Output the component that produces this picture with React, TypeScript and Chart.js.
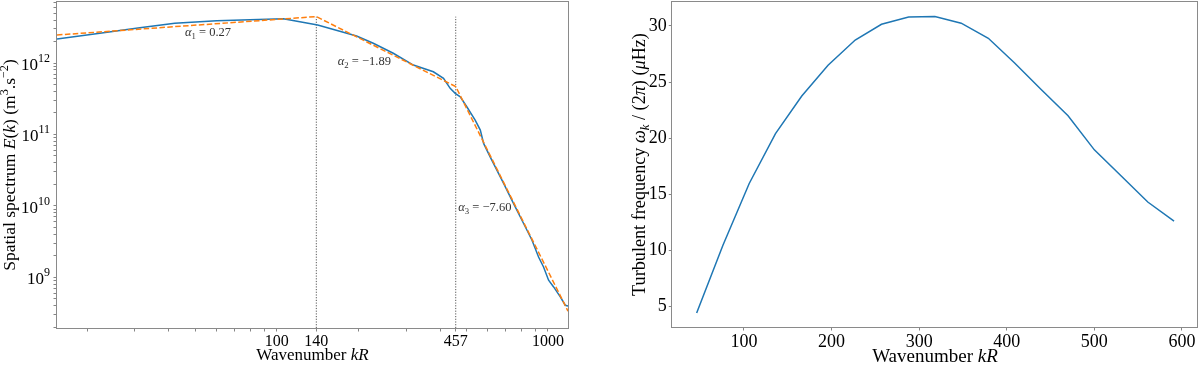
import React, { useEffect, useRef } from "react";
import { Chart, registerables } from "chart.js";

Chart.register(...registerables);

const SERIF = "'Liberation Serif', 'DejaVu Serif', serif";

// ---------- Left panel: spatial spectrum ----------
const specK = [
  15.5, 22.3, 31.3, 42.1, 60.1, 105.8, 141.6, 197, 227, 269, 319, 378, 412, 436, 455, 475, 502,
  539, 563, 579, 612, 648, 686, 746, 813, 873, 923, 963, 1005, 1049, 1110, 1158, 1185,
];
const specE = [
  2.17e12, 2.61e12, 3.13e12, 3.61e12, 3.92e12, 4.18e12, 3.41e12, 2.39e12, 1.89e12, 1.37e12,
  9.38e11, 7.55e11, 6.1e11, 4.42e11, 3.76e11, 3.37e11, 2.44e11, 1.59e11, 1.15e11, 7.48e10,
  4.85e10, 3.16e10, 2.06e10, 1.08e10, 5.66e9, 3.3e9, 1.92e9, 1.39e9, 9.08e8, 7.31e8, 5.3e8,
  4.05e8, 3.95e8,
];
const fitK = [15.5, 140, 457, 1185];
const fitE = [2.47e12, 4.47e12, 4.68e11, 3.35e8];
const breakK = [140, 457];
const breakTopE = 4.46e12;
const slopeLabels = ["1", "2", "3"];
const slopeValues = ["0.27", "\u22121.89", "\u22127.60"];
const slopeK = [45.9, 168, 467];
const slopeE = [2.39e12, 9.37e11, 8.41e9];
const specXLabels = [100, 140, 457, 1000];
const specXMinor = [20, 30, 40, 50, 60, 70, 80, 90, 200, 300, 400, 500, 600, 700, 800, 900];
const specYLabels = [1e9, 1e10, 1e11, 1e12];
const specYExp = ["9", "10", "11", "12"];
const specYDecades = [1e8, 1e9, 1e10, 1e11, 1e12];
const specXRange = [15.5, 1185];
const specYRange = [1.945e8, 7.16e12];

// ---------- Right panel: turbulent frequency ----------
const freqK = [46, 76, 106, 136, 166, 196, 227, 257, 288, 318, 348, 379, 409, 439, 470, 500, 531, 561, 591];
const freqV = [4.4, 10.45, 15.95, 20.4, 23.75, 26.5, 28.75, 30.15, 30.8, 30.85, 30.25, 28.9, 26.7, 24.35, 22.0, 18.95, 16.6, 14.3, 12.6];
const freqXTicks = [100, 200, 300, 400, 500, 600];
const freqYTicks = [5, 10, 15, 20, 25, 30];
const freqXRange = [18.2, 618];
const freqYRange = [3.15, 32.14];

const BLUE = "#1f77b4";
const ORANGE = "#ff7f0e";
const SPINE = "#8a8a8a";

type Seg = { t: string; it?: boolean; s?: "sup" | "sub" };

function drawRich(
  ctx: CanvasRenderingContext2D,
  segs: Seg[],
  x: number,
  y: number,
  size: number,
  align: "left" | "center" | "right",
  color: string
) {
  const fontFor = (s: Seg) => `${s.it ? "italic " : ""}${s.s ? size * 0.7 : size}px ${SERIF}`;
  const widths: number[] = [];
  let total = 0;
  for (const s of segs) {
    ctx.font = fontFor(s);
    const w = ctx.measureText(s.t).width;
    widths.push(w);
    total += w;
  }
  let cx = align === "center" ? x - total / 2 : align === "right" ? x - total : x;
  ctx.textAlign = "left";
  ctx.textBaseline = "alphabetic";
  ctx.fillStyle = color;
  segs.forEach((s, i) => {
    ctx.font = fontFor(s);
    const dy = s.s === "sup" ? -size * 0.4 : s.s === "sub" ? size * 0.22 : 0;
    ctx.fillText(s.t, cx, y + dy);
    cx += widths[i];
  });
}

function frameRect(chart: any) {
  const { ctx, chartArea: a } = chart;
  ctx.save();
  ctx.strokeStyle = SPINE;
  ctx.lineWidth = 1;
  ctx.strokeRect(Math.round(a.left) - 0.5, Math.round(a.top) - 0.5, Math.round(a.right - a.left) + 1, Math.round(a.bottom - a.top) + 1);
  ctx.restore();
}

function noEdgePadding(s: any) {
  s.paddingTop = 0;
  s.paddingBottom = 0;
  s.paddingLeft = 0;
  s.paddingRight = 0;
}

const specPlugin = {
  id: "specExtras",
  afterDraw(chart: any) {
    const { ctx, chartArea: a, scales } = chart;
    frameRect(chart);
    ctx.save();
    // y tick labels 10^n
    specYLabels.forEach((v, i) => {
      const py = scales.y.getPixelForValue(v);
      ctx.font = `12px ${SERIF}`;
      const wExp = ctx.measureText(specYExp[i]).width;
      const right = a.left - 7;
      ctx.font = `17px ${SERIF}`;
      ctx.textAlign = "right";
      ctx.textBaseline = "alphabetic";
      ctx.fillStyle = "#000";
      ctx.fillText("10", right - wExp, py + 7);
      ctx.font = `12px ${SERIF}`;
      ctx.textAlign = "left";
      ctx.fillText(specYExp[i], right - wExp, py - 1);
    });
    // slope annotations
    slopeLabels.forEach((lab, i) => {
      const px = scales.x.getPixelForValue(slopeK[i]);
      const py = scales.y.getPixelForValue(slopeE[i]);
      drawRich(
        ctx,
        [{ t: "\u03b1", it: true }, { t: lab, s: "sub" }, { t: " = " + slopeValues[i] }],
        px,
        py,
        12.5,
        "left",
        "#333"
      );
    });
    // axis titles
    drawRich(ctx, [{ t: "Wavenumber " }, { t: "kR", it: true }], (a.left + a.right) / 2, 360, 17, "center", "#000");
    ctx.save();
    ctx.translate(15, (a.top + a.bottom) / 2);
    ctx.rotate(-Math.PI / 2);
    drawRich(
      ctx,
      [
        { t: "Spatial spectrum " },
        { t: "E", it: true },
        { t: "(" },
        { t: "k", it: true },
        { t: ") (m" },
        { t: "3", s: "sup" },
        { t: ".s" },
        { t: "\u22122", s: "sup" },
        { t: ")" },
      ],
      0,
      0,
      17.5,
      "center",
      "#000"
    );
    ctx.restore();
    ctx.restore();
  },
};

const freqPlugin = {
  id: "freqExtras",
  afterDraw(chart: any) {
    const { ctx, chartArea: a } = chart;
    frameRect(chart);
    ctx.save();
    drawRich(ctx, [{ t: "Wavenumber " }, { t: "kR", it: true }], (a.left + a.right) / 2, 362, 19, "center", "#000");
    ctx.translate(45, (a.top + a.bottom) / 2);
    ctx.rotate(-Math.PI / 2);
    drawRich(
      ctx,
      [
        { t: "Turbulent frequency " },
        { t: "\u03c9", it: true },
        { t: "k", it: true, s: "sub" },
        { t: " / (2" },
        { t: "\u03c0", it: true },
        { t: ") (" },
        { t: "\u03bc", it: true },
        { t: "Hz)" },
      ],
      0,
      0,
      18.2,
      "center",
      "#000"
    );
    ctx.restore();
  },
};

function minorLog(decades: number[]): number[] {
  const out: number[] = [];
  decades.forEach((d) => {
    for (let m = 2; m <= 9; m++) out.push(m * d);
  });
  return out;
}

function SpectrumChart() {
  const ref = useRef<HTMLCanvasElement>(null);
  useEffect(() => {
    if (!ref.current) return;
    const yMinor = minorLog(specYDecades).filter((v) => v > specYRange[0] && v < specYRange[1]);
    const chart = new Chart(ref.current, {
      type: "line",
      data: {
        datasets: [
          {
            data: fitK.map((k, i) => ({ x: k, y: fitE[i] })),
            borderColor: ORANGE,
            borderWidth: 1.5,
            borderDash: [5.5, 2.4],
            pointRadius: 0,
            fill: false,
          },
          {
            data: specK.map((k, i) => ({ x: k, y: specE[i] })),
            borderColor: BLUE,
            borderWidth: 1.5,
            pointRadius: 0,
            fill: false,
          },
          ...breakK.map((k) => ({
            data: [
              { x: k, y: specYRange[0] },
              { x: k, y: breakTopE },
            ],
            borderColor: "#444",
            borderWidth: 0.9,
            borderDash: [1.2, 1.5],
            pointRadius: 0,
            fill: false,
          })),
        ],
      },
      options: {
        responsive: false,
        maintainAspectRatio: false,
        animation: false,
        devicePixelRatio: 1,
        layout: { padding: { left: 0, top: 2, right: 32, bottom: 0 } },
        plugins: { legend: { display: false }, tooltip: { enabled: false } },
        scales: {
          x: {
            type: "logarithmic",
            min: specXRange[0],
            max: specXRange[1],
            afterBuildTicks: (s: any) => {
              s.ticks = [...specXLabels, ...specXMinor].sort((p, q) => p - q).map((v) => ({ value: v }));
            },
            afterFit: (s: any) => {
              s.height = 37;
              noEdgePadding(s);
            },
            ticks: {
              autoSkip: false,
              maxRotation: 0,
              padding: 1,
              color: "#000",
              font: { family: SERIF, size: 16 },
              callback: (v: any) => (specXLabels.includes(Number(v)) ? String(v) : ""),
            },
            grid: { drawOnChartArea: false, tickLength: 3.5, tickColor: "#666", tickWidth: 0.8 },
            border: { display: false },
          },
          y: {
            type: "logarithmic",
            min: specYRange[0],
            max: specYRange[1],
            afterBuildTicks: (s: any) => {
              s.ticks = [...specYLabels, ...yMinor].sort((p, q) => p - q).map((v) => ({ value: v }));
            },
            afterFit: (s: any) => {
              s.width = 57;
              noEdgePadding(s);
            },
            ticks: { autoSkip: false, callback: () => "", padding: 0 },
            grid: { drawOnChartArea: false, tickLength: 3.5, tickColor: "#666", tickWidth: 0.8 },
            border: { display: false },
          },
        },
      },
      plugins: [specPlugin],
    } as any);
    return () => chart.destroy();
  }, []);
  return <canvas ref={ref} width={600} height={365} style={{ display: "block" }} />;
}

function FrequencyChart() {
  const ref = useRef<HTMLCanvasElement>(null);
  useEffect(() => {
    if (!ref.current) return;
    const chart = new Chart(ref.current, {
      type: "line",
      data: {
        datasets: [
          {
            data: freqK.map((k, i) => ({ x: k, y: freqV[i] })),
            borderColor: BLUE,
            borderWidth: 1.5,
            pointRadius: 0,
            fill: false,
          },
        ],
      },
      options: {
        responsive: false,
        maintainAspectRatio: false,
        animation: false,
        devicePixelRatio: 1,
        layout: { padding: { left: 0, top: 2, right: 2.3, bottom: 0 } },
        plugins: { legend: { display: false }, tooltip: { enabled: false } },
        scales: {
          x: {
            type: "linear",
            min: freqXRange[0],
            max: freqXRange[1],
            afterBuildTicks: (s: any) => {
              s.ticks = freqXTicks.map((v) => ({ value: v }));
            },
            afterFit: (s: any) => {
              s.height = 38;
              noEdgePadding(s);
            },
            ticks: {
              autoSkip: false,
              maxRotation: 0,
              padding: 1,
              color: "#000",
              font: { family: SERIF, size: 18 },
              callback: (v: any) => String(v),
            },
            grid: { drawOnChartArea: false, tickLength: 3.5, tickColor: "#666", tickWidth: 0.8 },
            border: { display: false },
          },
          y: {
            type: "linear",
            min: freqYRange[0],
            max: freqYRange[1],
            afterBuildTicks: (s: any) => {
              s.ticks = freqYTicks.map((v) => ({ value: v }));
            },
            afterFit: (s: any) => {
              s.width = 72.3;
              noEdgePadding(s);
            },
            ticks: {
              autoSkip: false,
              padding: 2,
              color: "#000",
              font: { family: SERIF, size: 18 },
              callback: (v: any) => String(v),
            },
            grid: { drawOnChartArea: false, tickLength: 3.5, tickColor: "#666", tickWidth: 0.8 },
            border: { display: false },
          },
        },
      },
      plugins: [freqPlugin],
    } as any);
    return () => chart.destroy();
  }, []);
  return <canvas ref={ref} width={600} height={365} style={{ display: "block" }} />;
}

export default function App() {
  return (
    <div style={{ position: "absolute", left: 0, top: 0, width: 1200, height: 365, background: "#fff", display: "flex" }}>
      <SpectrumChart />
      <FrequencyChart />
    </div>
  );
}
